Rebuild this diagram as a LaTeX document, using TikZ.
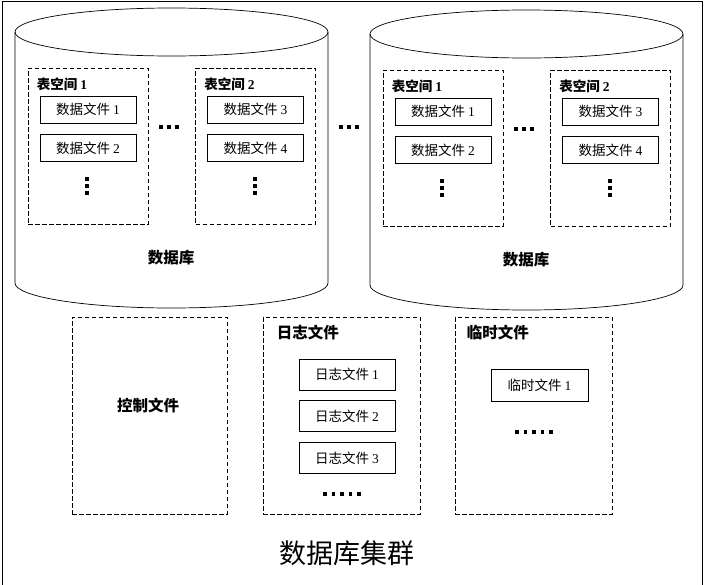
\documentclass[tikz,border=0pt]{standalone}
\usepackage{fontspec}
\setmainfont{Liberation Serif}
\newfontfamily\cjk{Noto Sans CJK SC}
\usetikzlibrary{positioning}

\tikzset{
	dbline/.style={line width=0.7pt},
	spacebox/.style={draw, line width=0.8pt, dash pattern=on 4.5pt off 2.5pt, inner sep=0pt, minimum width=120pt, minimum height=156pt},
	filebox/.style={draw, line width=0.8pt, inner sep=0pt, minimum width=96pt, minimum height=27pt, font=\cjk\fontsize{13.5}{15}\selectfont},
	boxtitle/.style={anchor=west, inner sep=0pt, font=\cjk\bfseries\fontsize{13.5}{15}\selectfont},
	bigtitle/.style={inner sep=0pt, font=\cjk\bfseries\fontsize{15.5}{17}\selectfont},
}
\newcommand\sqdot[1]{\fill #1 +(-1.7,-1.7) rectangle +(1.7,1.7);}

\begin{document}
\begin{tikzpicture}[x=1pt,y=-1pt]
	\useasboundingbox (0,0) rectangle (704,584);
	%%frame
	\draw[line width=0.8pt] (2,590) -- (2,1) -- (702,1) -- (702,590);
	%%the two databases
	\foreach \c/\dx/\dy in {1/0/0, 2/355/2} {
		\begin{scope}[shift={(\dx,\dy)}]
			\draw[dbline] (171.5,32) ellipse [x radius=156.5, y radius=24];
			\draw[dbline] (15,32) -- (15,283) arc [start angle=180, end angle=0, x radius=156.5, y radius=25] -- (328,32);
			%tablespace 1
			\node[spacebox] (ts\c-1) at (88,146) {};
			\node[boxtitle] (tt\c-1) at ([xshift=9pt,yshift=-17pt]ts\c-1.north west) {表空间 \rmfamily\bfseries 1};
			\node[filebox, below=28pt of ts\c-1.north] (df\c-1) {数据文件 \rmfamily 1};
			\node[filebox, below=11pt of df\c-1] (df\c-2) {数据文件 \rmfamily 2};
			%tablespace 2
			\node[spacebox] (ts\c-2) at (255.5,146) {};
			\node[boxtitle] (tt\c-2) at ([xshift=9pt,yshift=-17pt]ts\c-2.north west) {表空间 \rmfamily\bfseries 2};
			\node[filebox, below=28pt of ts\c-2.north] (df\c-3) {数据文件 \rmfamily 3};
			\node[filebox, below=11pt of df\c-3] (df\c-4) {数据文件 \rmfamily 4};
			%dots
			\foreach \y in {179,186,193} {
				\sqdot{(87,\y)}
				\sqdot{(255,\y)}
			}
			\foreach \x in {161,169,177} {\sqdot{(\x,127)}}
			\node[bigtitle] (db\c) at (171,258) {数据库};
		\end{scope}
	}
	\foreach \x in {341,349,357} {\sqdot{(\x,127)}}
	%%control files
	\node[spacebox, minimum width=155pt, minimum height=197pt] (ctl) at (149.5,415.5) {};
	\node[bigtitle] (ctltitle) at (148,406) {控制文件};
	%%redo log files
	\node[spacebox, minimum width=157pt, minimum height=197pt] (log) at (341.5,415.5) {};
	\node[boxtitle, font=\cjk\bfseries\fontsize{15.5}{17}\selectfont] (logtitle) at ([xshift=14pt,yshift=-16pt]log.north west) {日志文件};
	\node[filebox, minimum height=31pt] (lf1) at (347,374.5) {日志文件 \rmfamily 1};
	\node[filebox, minimum height=31pt, below=10pt of lf1] (lf2) {日志文件 \rmfamily 2};
	\node[filebox, minimum height=31pt, below=10pt of lf2] (lf3) {日志文件 \rmfamily 3};
	\foreach \k in {0,...,4} {\sqdot{(325+8.5*\k,494)}}
	%%temp files
	\node[spacebox, minimum width=157pt, minimum height=197pt] (tmp) at (533.5,415.5) {};
	\node[boxtitle, font=\cjk\bfseries\fontsize{15.5}{17}\selectfont] (tmptitle) at ([xshift=12pt,yshift=-16pt]tmp.north west) {临时文件};
	\node[filebox, minimum width=97pt, minimum height=32pt] (tf1) at (539.5,385) {临时文件 \rmfamily 1};
	\foreach \k in {0,...,4} {\sqdot{(517+8.5*\k,432)}}
	%%caption
	\node[inner sep=0pt, font=\cjk\fontsize{27}{30}\selectfont] (cluster) at (347,553) {数据库集群};
\end{tikzpicture}
\end{document}
